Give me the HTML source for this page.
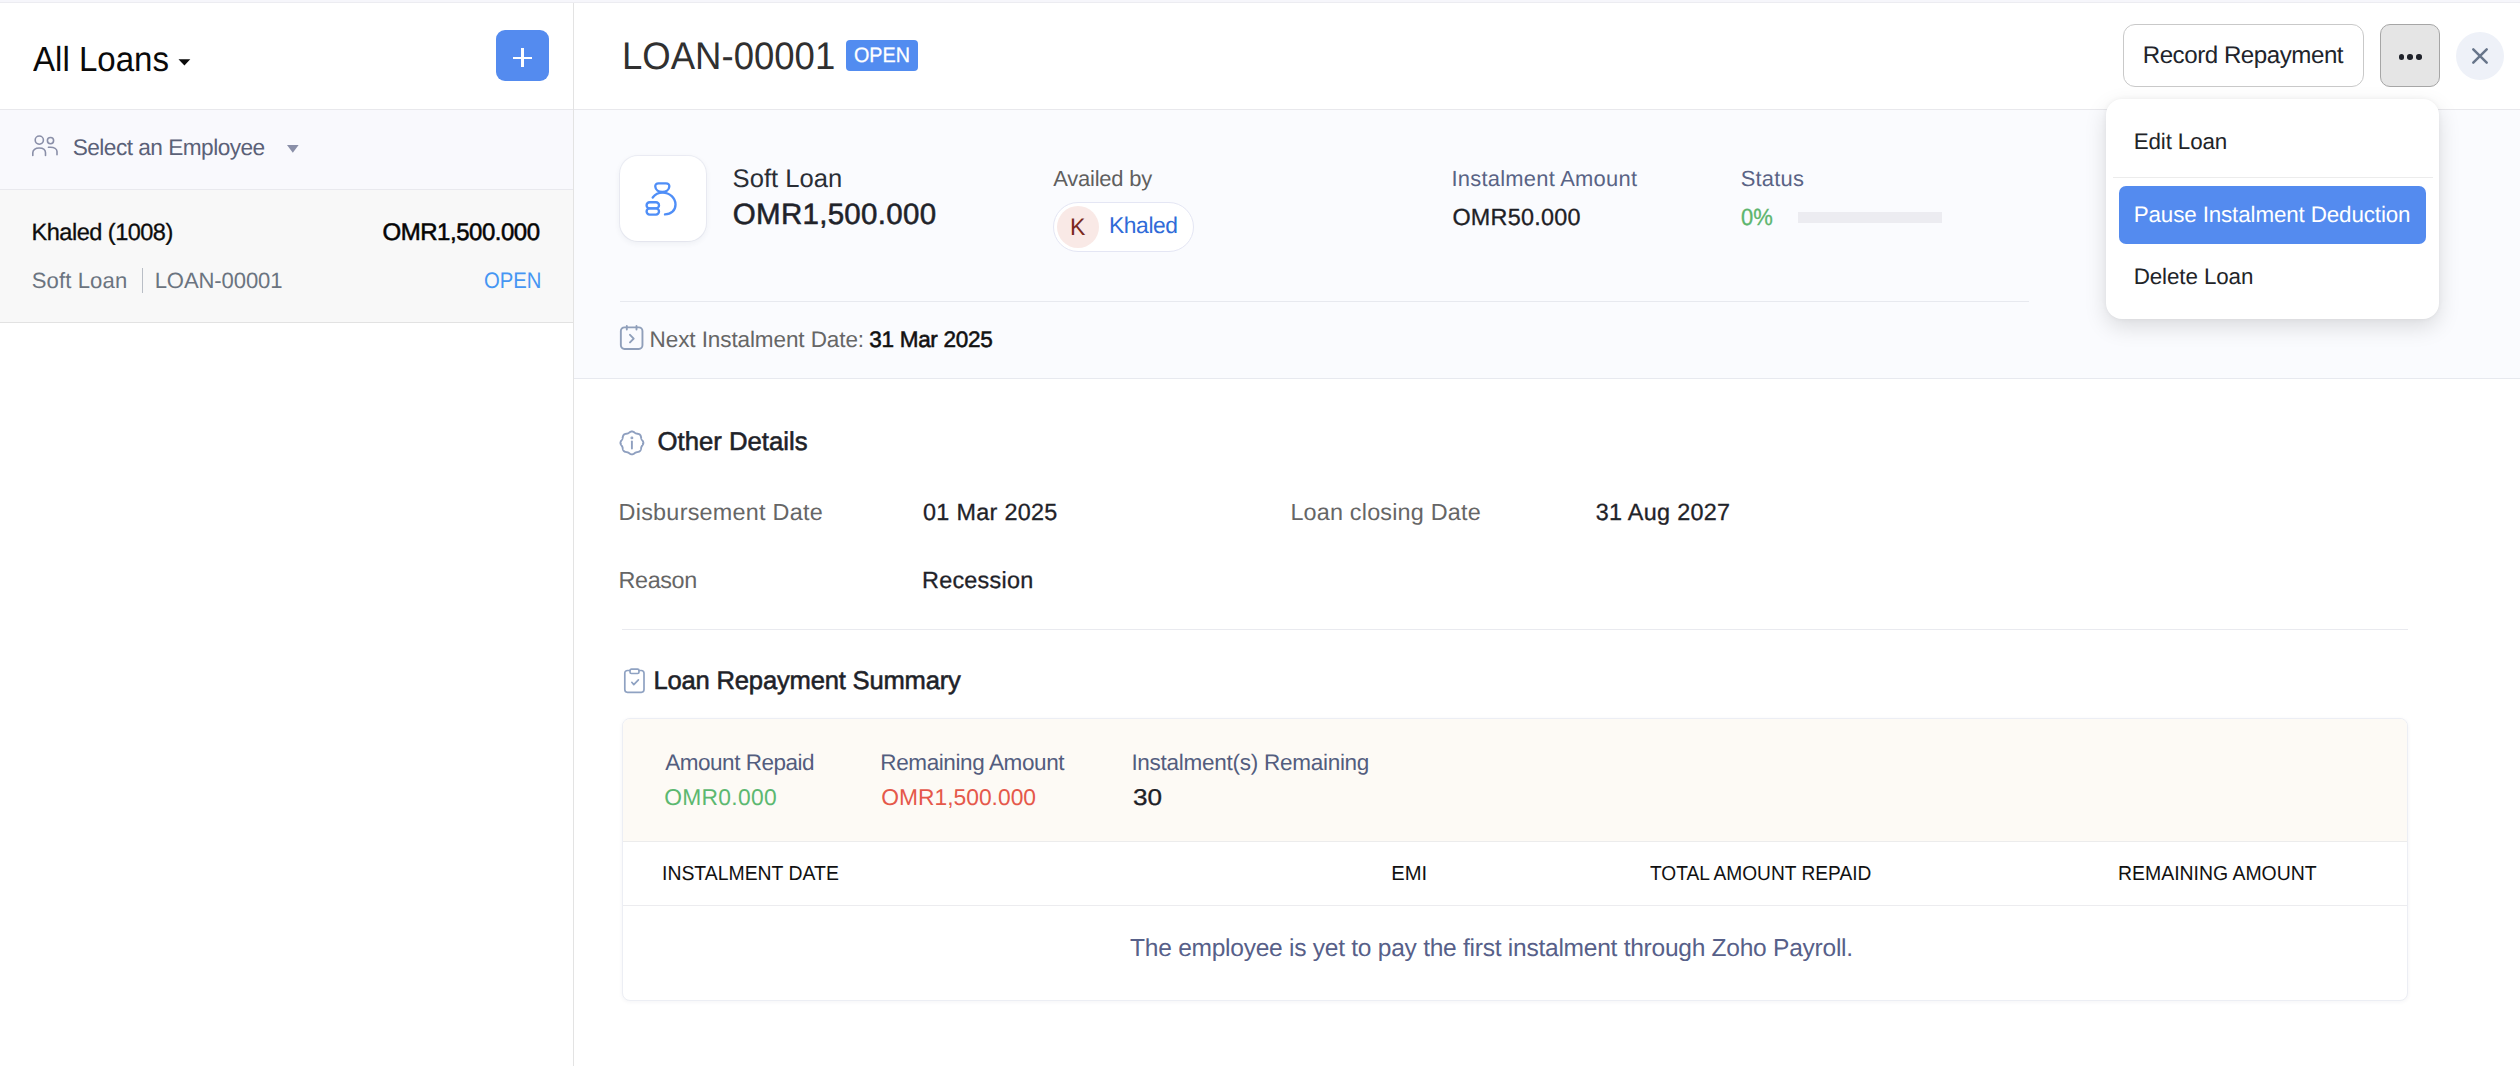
<!DOCTYPE html>
<html><head><meta charset="utf-8"><title>Loans</title>
<style>
*{box-sizing:border-box;margin:0;padding:0}
html,body{width:2520px;height:1066px;overflow:hidden;background:#fff;font-family:"Liberation Sans",Arial,sans-serif}
.a{position:absolute}
.t{position:absolute;white-space:nowrap;line-height:normal;font-family:"Liberation Sans",Arial,sans-serif;text-rendering:geometricPrecision}
.ic{position:absolute;overflow:visible}
</style></head><body>
<!-- top strip -->
<div class="a" style="left:0;top:0;width:2520px;height:2px;background:#f6f6fb"></div>
<div class="a" style="left:0;top:2px;width:2520px;height:1px;background:#ececf1"></div>
<!-- left panel -->
<div class="a" style="left:0;top:109px;width:573px;height:1px;background:#e8e8ec"></div>
<div class="a" style="left:0;top:110px;width:573px;height:79px;background:#f9f9fd"></div>
<div class="a" style="left:0;top:189px;width:573px;height:1px;background:#e9e9ee"></div>
<div class="a" style="left:0;top:190px;width:573px;height:132px;background:#f8f8f8"></div>
<div class="a" style="left:0;top:322px;width:573px;height:1px;background:#e2e2e2"></div>
<div class="a" style="left:573px;top:3px;width:1px;height:1063px;background:#e3e3e3"></div>
<!-- plus btn -->
<div class="a" style="left:496px;top:30px;width:53px;height:51px;border-radius:9px;background:#548bef"></div>
<div class="a" style="left:513px;top:56.5px;width:19px;height:2.6px;background:#fff"></div>
<div class="a" style="left:521.2px;top:48px;width:2.6px;height:19px;background:#fff"></div>
<!-- caret all loans -->
<svg class="ic" style="left:178px;top:58.6px" width="13" height="8" viewBox="0 0 13 8"><path d="M0.5 0.3 L12.3 0.3 L6.4 6.4 Z" fill="#0a0a0a"/></svg>
<!-- people icon -->
<svg class="ic" style="left:32px;top:135px" width="26" height="22" viewBox="0 0 26 22" fill="none" stroke="#8a8fa8" stroke-width="1.6" stroke-linecap="round">
<circle cx="7.3" cy="5.1" r="4.1"/><circle cx="18.5" cy="5.6" r="3.1"/>
<path d="M0.8 20.4 V17.8 C0.8 14.8 3.3 13 7.2 13 C11.1 13 13.5 14.8 13.5 17.8 V20.4"/>
<path d="M16.5 12.3 C17 12.2 17.8 12.2 18.4 12.2 C22 12.2 25 13.8 25 16.6 V19.8"/>
</svg>
<svg class="ic" style="left:287px;top:144.5px" width="12" height="8" viewBox="0 0 12 8"><path d="M0 0 L11.6 0 L5.8 7.8 Z" fill="#8a8fa8"/></svg>
<!-- list separator -->
<div class="a" style="left:142px;top:268px;width:1.2px;height:25px;background:#b9bec6"></div>
<!-- main header -->
<div class="a" style="left:574px;top:109px;width:1946px;height:1px;background:#e8e8ec"></div>
<div class="a" style="left:846px;top:40px;width:72px;height:31px;border-radius:4px;background:#528cf0"></div>
<div class="a" style="left:2123px;top:24px;width:241px;height:62.6px;border-radius:12px;border:1.5px solid #c9c9c9;background:#fff"></div>
<div class="a" style="left:2380px;top:24px;width:60px;height:62.8px;border-radius:10px;border:1.5px solid #a6a6a6;background:#e5e5e5"></div>
<div class="a" style="left:2398.6px;top:54px;width:5.5px;height:5.5px;border-radius:50%;background:#20232b"></div>
<div class="a" style="left:2407.3px;top:54px;width:5.5px;height:5.5px;border-radius:50%;background:#20232b"></div>
<div class="a" style="left:2416px;top:54px;width:5.5px;height:5.5px;border-radius:50%;background:#20232b"></div>
<div class="a" style="left:2456px;top:32px;width:48px;height:48px;border-radius:50%;background:#eef1f8"></div>
<svg class="ic" style="left:2470px;top:46px" width="20" height="20" viewBox="0 0 20 20" stroke="#67758a" stroke-width="2.5" stroke-linecap="round"><path d="M3.3 3.4 L16.7 16.7 M16.7 3.4 L3.3 16.7"/></svg>
<!-- summary area -->
<div class="a" style="left:574px;top:110px;width:1946px;height:268px;background:#fafbfe"></div>
<div class="a" style="left:574px;top:378px;width:1946px;height:1px;background:#e7e9ef"></div>
<div class="a" style="left:620px;top:301px;width:1409px;height:1px;background:#e7e9ef"></div>
<div class="a" style="left:620px;top:155.5px;width:86px;height:85.5px;border-radius:18px;background:#fff;box-shadow:0 2px 6px rgba(40,50,90,0.07),0 0 0 1px rgba(230,232,240,0.6)"></div>
<svg class="ic" style="left:620px;top:155px" width="86" height="86" viewBox="0 0 86 86" fill="none" stroke="#4f8ef7" stroke-width="2.35" stroke-linecap="round" stroke-linejoin="round">
<path d="M38.5 28.4 L46 28.4 C48.3 28.4 49.5 29.6 49.3 31.6 C49 35 46 37 42.3 37 C38.6 37 35.6 35 35.3 31.6 C35.1 29.6 36.3 28.4 38.5 28.4 Z"/>
<path d="M32.7 42.5 C35 39.5 38.5 37.6 42.5 37.6 C49.8 37.6 55.5 43 55.5 49.5 C55.5 55.5 51 59.4 45 59.4"/>
<rect x="26.6" y="47.2" width="12.4" height="6.2" rx="3"/>
<rect x="26.6" y="53.4" width="12.4" height="6.2" rx="3"/>
</svg>
<div class="a" style="left:1053px;top:202px;width:140.5px;height:49.5px;border-radius:25px;background:#fff;border:1px solid #e4e6f4"></div>
<div class="a" style="left:1057px;top:206px;width:42px;height:42px;border-radius:50%;background:#f9e9e6"></div>
<div class="a" style="left:1798px;top:212px;width:144px;height:11px;background:#ececf1"></div>
<!-- calendar icon -->
<svg class="ic" style="left:619px;top:325px" width="26" height="26" viewBox="0 0 26 26" fill="none" stroke="#8f9fba" stroke-width="1.9" stroke-linecap="round" stroke-linejoin="round">
<rect x="1.85" y="2.35" width="21.6" height="21.6" rx="3.6"/>
<path d="M7.8 1 V4.6 M17.5 1 V4.6"/>
<path d="M11 9.8 L14.7 13.6 L11 17.4"/>
</svg>
<!-- other details -->
<svg class="ic" style="left:619px;top:430px" width="26" height="26" viewBox="0 0 26 26" fill="none" stroke="#8e9fbf" stroke-width="1.9" stroke-linecap="round" stroke-linejoin="round">
<path d="M12.90 1.45 L13.26 1.47 L13.61 1.54 L13.96 1.65 L14.30 1.79 L14.63 1.97 L14.95 2.16 L15.26 2.36 L15.55 2.57 L15.84 2.77 L16.13 2.96 L16.42 3.13 L16.71 3.27 L17.01 3.40 L17.32 3.50 L17.65 3.58 L17.98 3.66 L18.33 3.72 L18.69 3.78 L19.05 3.86 L19.41 3.94 L19.76 4.05 L20.10 4.19 L20.43 4.36 L20.73 4.57 L21.00 4.80 L21.23 5.07 L21.44 5.37 L21.61 5.70 L21.75 6.04 L21.86 6.39 L21.94 6.75 L22.02 7.11 L22.08 7.47 L22.14 7.82 L22.22 8.15 L22.30 8.48 L22.40 8.79 L22.53 9.09 L22.67 9.38 L22.84 9.67 L23.03 9.96 L23.23 10.25 L23.44 10.54 L23.64 10.85 L23.83 11.17 L24.01 11.50 L24.15 11.84 L24.26 12.19 L24.33 12.54 L24.35 12.90 L24.33 13.26 L24.26 13.61 L24.15 13.96 L24.01 14.30 L23.83 14.63 L23.64 14.95 L23.44 15.26 L23.23 15.55 L23.03 15.84 L22.84 16.13 L22.67 16.42 L22.53 16.71 L22.40 17.01 L22.30 17.32 L22.22 17.65 L22.14 17.98 L22.08 18.33 L22.02 18.69 L21.94 19.05 L21.86 19.41 L21.75 19.76 L21.61 20.10 L21.44 20.43 L21.23 20.73 L21.00 21.00 L20.73 21.23 L20.43 21.44 L20.10 21.61 L19.76 21.75 L19.41 21.86 L19.05 21.94 L18.69 22.02 L18.33 22.08 L17.98 22.14 L17.65 22.22 L17.32 22.30 L17.01 22.40 L16.71 22.53 L16.42 22.67 L16.13 22.84 L15.84 23.03 L15.55 23.23 L15.26 23.44 L14.95 23.64 L14.63 23.83 L14.30 24.01 L13.96 24.15 L13.61 24.26 L13.26 24.33 L12.90 24.35 L12.54 24.33 L12.19 24.26 L11.84 24.15 L11.50 24.01 L11.17 23.83 L10.85 23.64 L10.54 23.44 L10.25 23.23 L9.96 23.03 L9.67 22.84 L9.38 22.67 L9.09 22.53 L8.79 22.40 L8.48 22.30 L8.15 22.22 L7.82 22.14 L7.47 22.08 L7.11 22.02 L6.75 21.94 L6.39 21.86 L6.04 21.75 L5.70 21.61 L5.37 21.44 L5.07 21.23 L4.80 21.00 L4.57 20.73 L4.36 20.43 L4.19 20.10 L4.05 19.76 L3.94 19.41 L3.86 19.05 L3.78 18.69 L3.72 18.33 L3.66 17.98 L3.58 17.65 L3.50 17.32 L3.40 17.01 L3.27 16.71 L3.13 16.42 L2.96 16.13 L2.77 15.84 L2.57 15.55 L2.36 15.26 L2.16 14.95 L1.97 14.63 L1.79 14.30 L1.65 13.96 L1.54 13.61 L1.47 13.26 L1.45 12.90 L1.47 12.54 L1.54 12.19 L1.65 11.84 L1.79 11.50 L1.97 11.17 L2.16 10.85 L2.36 10.54 L2.57 10.25 L2.77 9.96 L2.96 9.67 L3.13 9.38 L3.27 9.09 L3.40 8.79 L3.50 8.48 L3.58 8.15 L3.66 7.82 L3.72 7.47 L3.78 7.11 L3.86 6.75 L3.94 6.39 L4.05 6.04 L4.19 5.70 L4.36 5.37 L4.57 5.07 L4.80 4.80 L5.07 4.57 L5.37 4.36 L5.70 4.19 L6.04 4.05 L6.39 3.94 L6.75 3.86 L7.11 3.78 L7.47 3.72 L7.82 3.66 L8.15 3.58 L8.48 3.50 L8.79 3.40 L9.09 3.27 L9.38 3.13 L9.67 2.96 L9.96 2.77 L10.25 2.57 L10.54 2.36 L10.85 2.16 L11.17 1.97 L11.50 1.79 L11.84 1.65 L12.19 1.54 L12.54 1.47 L12.90 1.45 Z"/>
<path d="M12.9 11.5 V18.5"/><circle cx="12.9" cy="7.9" r="0.5" fill="#97a8c5"/>
</svg>
<div class="a" style="left:622px;top:629px;width:1786px;height:1px;background:#e9eaef"></div>
<!-- clipboard icon -->
<svg class="ic" style="left:623px;top:667px" width="24" height="27" viewBox="0 0 24 27" fill="none" stroke="#8fa2c2" stroke-width="1.7" stroke-linecap="round" stroke-linejoin="round">
<path d="M7 3.5 H4.5 C2.8 3.5 1.8 4.6 1.8 6.2 V22.6 C1.8 24.3 2.8 25.3 4.5 25.3 H18.3 C20 25.3 21 24.3 21 22.6 V6.2 C21 4.6 20 3.5 18.3 3.5 H16"/>
<rect x="7" y="2.1" width="9" height="4.4" rx="1.4"/>
<path d="M8.8 15.3 L10.8 17.7 L15.4 12.9"/>
</svg>
<!-- summary card -->
<div class="a" style="left:622px;top:718px;width:1786px;height:283px;border-radius:8px;background:#fff;border:1px solid #eceef4;box-shadow:0 1px 4px rgba(30,40,80,0.05)"></div>
<div class="a" style="left:623px;top:719px;width:1784px;height:122px;border-radius:7px 7px 0 0;background:#fdfaf5"></div>
<div class="a" style="left:623px;top:841px;width:1784px;height:1px;background:#ececec"></div>
<div class="a" style="left:623px;top:905px;width:1784px;height:1px;background:#ececef"></div>
<!-- dropdown -->
<div class="a" style="left:2106px;top:99px;width:333px;height:220px;border-radius:16px;background:#fff;box-shadow:0 8px 22px rgba(0,0,0,0.13),0 0 5px rgba(0,0,0,0.05)"></div>
<div class="a" style="left:2113px;top:177px;width:320px;height:1px;background:#ececec"></div>
<div class="a" style="left:2119px;top:185.5px;width:307px;height:58.5px;border-radius:7px;background:#548bef"></div>
<span class="t" id="t_allloans" style="left:33.40px;top:40.85px;font-size:34.74px;letter-spacing:0.000px;color:#0a0a0a;transform:scaleX(0.9518);transform-origin:0 0;">All Loans</span>
<span class="t" id="t_selemp" style="left:72.70px;top:133.88px;font-size:22.67px;letter-spacing:-0.529px;color:#5b6178;">Select an Employee</span>
<span class="t" id="t_khl" style="left:31.60px;top:218.68px;font-size:23.55px;letter-spacing:-0.519px;color:#0d0d0d;-webkit-text-stroke:0.3px #0d0d0d;">Khaled (1008)</span>
<span class="t" id="t_softl" style="left:31.70px;top:267.80px;font-size:22.09px;letter-spacing:0.120px;color:#6b7480;">Soft Loan</span>
<span class="t" id="t_loanl" style="left:154.70px;top:267.80px;font-size:22.09px;letter-spacing:-0.111px;color:#6b7480;">LOAN-00001</span>
<span class="t" id="t_omrl" style="left:382.50px;top:218.99px;font-size:23.98px;letter-spacing:-0.455px;color:#050505;-webkit-text-stroke:0.55px #050505;">OMR1,500.000</span>
<span class="t" id="t_openl" style="left:483.60px;top:267.60px;font-size:22.53px;letter-spacing:0.000px;color:#4596f3;transform:scaleX(0.9002);transform-origin:0 0;">OPEN</span>
<span class="t" id="t_loanh" style="left:622.00px;top:34.56px;font-size:38.37px;letter-spacing:0.000px;color:#303030;transform:scaleX(0.9525);transform-origin:0 0;">LOAN-00001</span>
<span class="t" id="t_openb" style="left:854.20px;top:44.05px;font-size:20.93px;letter-spacing:0.000px;color:#ffffff;-webkit-text-stroke:0.3px #ffffff;transform:scaleX(0.9442);transform-origin:0 0;">OPEN</span>
<span class="t" id="t_recrep" style="left:2142.70px;top:42.06px;font-size:24.13px;letter-spacing:-0.465px;color:#21242b;">Record Repayment</span>
<span class="t" id="t_edit" style="left:2133.70px;top:128.54px;font-size:22.38px;letter-spacing:-0.125px;color:#222428;">Edit Loan</span>
<span class="t" id="t_pause" style="left:2133.70px;top:202.04px;font-size:22.38px;letter-spacing:-0.120px;color:#ffffff;">Pause Instalment Deduction</span>
<span class="t" id="t_delete" style="left:2133.70px;top:264.04px;font-size:22.38px;letter-spacing:-0.100px;color:#222428;">Delete Loan</span>
<span class="t" id="t_softc" style="left:732.60px;top:164.54px;font-size:25.58px;letter-spacing:0.005px;color:#2a2e35;">Soft Loan</span>
<span class="t" id="t_omrc" style="left:732.80px;top:197.89px;font-size:29.51px;letter-spacing:0.290px;color:#1f232a;-webkit-text-stroke:0.55px #1f232a;">OMR1,500.000</span>
<span class="t" id="t_avail" style="left:1053.30px;top:166.23px;font-size:21.95px;letter-spacing:-0.220px;color:#5f5f5f;">Availed by</span>
<span class="t" id="t_k" style="left:1069.80px;top:214.29px;font-size:23.98px;letter-spacing:0.000px;color:#7a2a1e;transform:scaleX(0.9628);transform-origin:0 0;">K</span>
<span class="t" id="t_khp" style="left:1109.00px;top:211.84px;font-size:22.82px;letter-spacing:-0.400px;color:#2f6bd8;">Khaled</span>
<span class="t" id="t_instamt" style="left:1451.40px;top:166.23px;font-size:21.95px;letter-spacing:0.248px;color:#596385;">Instalment Amount</span>
<span class="t" id="t_status" style="left:1740.70px;top:166.23px;font-size:21.95px;letter-spacing:0.200px;color:#596385;">Status</span>
<span class="t" id="t_omr50" style="left:1452.40px;top:204.42px;font-size:23.4px;letter-spacing:0.245px;color:#1e2126;-webkit-text-stroke:0.3px #1e2126;">OMR50.000</span>
<span class="t" id="t_pct" style="left:1740.80px;top:204.42px;font-size:23.4px;letter-spacing:0.000px;color:#5cb56d;-webkit-text-stroke:0.3px #5cb56d;transform:scaleX(0.9405);transform-origin:0 0;">0%</span>
<span class="t" id="t_next" style="left:649.60px;top:326.80px;font-size:22.53px;letter-spacing:-0.100px;color:#666666;">Next Instalment Date:</span>
<span class="t" id="t_nextd" style="left:869.30px;top:326.80px;font-size:22.53px;letter-spacing:-0.300px;color:#111111;-webkit-text-stroke:0.55px #111111;">31 Mar 2025</span>
<span class="t" id="t_other" style="left:657.50px;top:427.61px;font-size:25.73px;letter-spacing:-0.000px;color:#1e2228;-webkit-text-stroke:0.55px #1e2228;">Other Details</span>
<span class="t" id="t_disb" style="left:618.60px;top:498.62px;font-size:23.4px;letter-spacing:0.247px;color:#666666;">Disbursement Date</span>
<span class="t" id="t_disbd" style="left:923.00px;top:498.62px;font-size:23.4px;letter-spacing:0.300px;color:#1f2329;-webkit-text-stroke:0.3px #1f2329;">01 Mar 2025</span>
<span class="t" id="t_close" style="left:1290.40px;top:498.62px;font-size:23.4px;letter-spacing:0.188px;color:#666666;">Loan closing Date</span>
<span class="t" id="t_closed" style="left:1595.70px;top:498.62px;font-size:23.4px;letter-spacing:0.300px;color:#1f2329;-webkit-text-stroke:0.3px #1f2329;">31 Aug 2027</span>
<span class="t" id="t_reason" style="left:618.60px;top:567.02px;font-size:23.4px;letter-spacing:-0.400px;color:#666666;">Reason</span>
<span class="t" id="t_reasonv" style="left:922.00px;top:567.02px;font-size:23.4px;letter-spacing:0.255px;color:#1f2329;-webkit-text-stroke:0.3px #1f2329;">Recession</span>
<span class="t" id="t_lrs" style="left:653.50px;top:666.54px;font-size:25.58px;letter-spacing:-0.190px;color:#1e2228;-webkit-text-stroke:0.55px #1e2228;">Loan Repayment Summary</span>
<span class="t" id="t_amtrep" style="left:665.30px;top:749.60px;font-size:22.53px;letter-spacing:-0.499px;color:#535d7e;">Amount Repaid</span>
<span class="t" id="t_omr0" style="left:664.30px;top:784.24px;font-size:22.82px;letter-spacing:0.284px;color:#5cb870;">OMR0.000</span>
<span class="t" id="t_remamt" style="left:880.30px;top:749.60px;font-size:22.53px;letter-spacing:-0.400px;color:#535d7e;">Remaining Amount</span>
<span class="t" id="t_omrr" style="left:881.30px;top:784.24px;font-size:22.82px;letter-spacing:0.002px;color:#e5584a;">OMR1,500.000</span>
<span class="t" id="t_instrem" style="left:1131.40px;top:749.60px;font-size:22.53px;letter-spacing:-0.273px;color:#535d7e;">Instalment(s) Remaining</span>
<span class="t" id="t_30" style="left:1132.60px;top:784.14px;font-size:22.82px;letter-spacing:0.000px;color:#1e2126;-webkit-text-stroke:0.3px #1e2126;transform:scaleX(1.1431);transform-origin:0 0;">30</span>
<span class="t" id="t_thdate" style="left:662.00px;top:863.11px;font-size:20.2px;letter-spacing:0.000px;color:#111111;transform:scaleX(0.9613);transform-origin:0 0;">INSTALMENT DATE</span>
<span class="t" id="t_themi" style="left:1391.30px;top:863.11px;font-size:20.2px;letter-spacing:0.000px;color:#111111;">EMI</span>
<span class="t" id="t_thtot" style="left:1650.00px;top:863.11px;font-size:20.2px;letter-spacing:0.000px;color:#111111;transform:scaleX(0.9485);transform-origin:0 0;">TOTAL AMOUNT REPAID</span>
<span class="t" id="t_threm" style="left:2117.80px;top:863.11px;font-size:20.2px;letter-spacing:0.000px;color:#111111;transform:scaleX(0.9626);transform-origin:0 0;">REMAINING AMOUNT</span>
<span class="t" id="t_msg" style="left:1130.10px;top:935.47px;font-size:24.56px;letter-spacing:-0.263px;color:#576089;">The employee is yet to pay the first instalment through Zoho Payroll.</span>
</body></html>
